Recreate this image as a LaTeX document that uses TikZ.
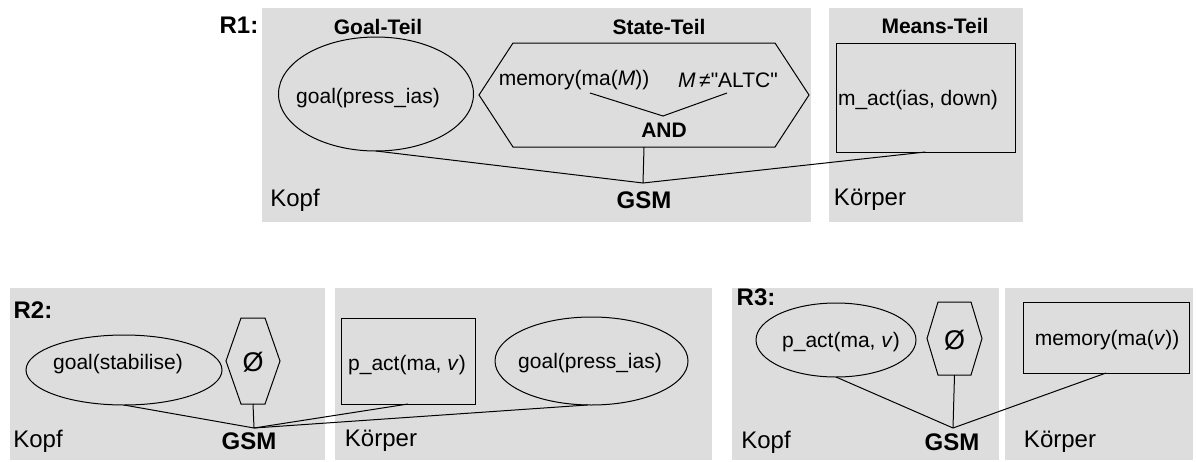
\documentclass[tikz,border=0pt]{standalone}
\usepackage{fontspec}
\setmainfont{Liberation Sans}
\newfontfamily\plainsans{Liberation Sans}
\usetikzlibrary{shapes.geometric}
\definecolor{boxgray}{RGB}{221,221,221}
\newcommand\hexpath[2]{\draw[conn] (#1.west) -- ([xshift=#2]#1.north west) -- ([xshift=-#2]#1.north east) -- (#1.east) -- ([xshift=-#2]#1.south east) -- ([xshift=#2]#1.south west) -- cycle;}
\begin{document}
\begin{tikzpicture}[x=1pt,y=-1pt,
  conn/.style={line width=1pt},
  panel/.style={fill=boxgray},
  ell/.style={ellipse,draw,line width=1pt,inner sep=0pt,outer sep=0pt},
  rbox/.style={rectangle,draw,line width=1pt,inner sep=0pt,outer sep=0pt},
  hexbox/.style={rectangle,draw=none,inner sep=0pt,outer sep=0pt},
  txt/.style={inner sep=0pt,font=\fontsize{21}{25}\selectfont},
  ttl/.style={inner sep=0pt,font=\fontsize{21}{25}\selectfont\bfseries},
  lbl/.style={inner sep=0pt,font=\fontsize{24}{28}\selectfont},
  blbl/.style={inner sep=0pt,font=\fontsize{24}{28}\selectfont\bfseries},
  empt/.style={inner sep=0pt,font=\fontsize{27}{30}\selectfont}]
\useasboundingbox (0,0) rectangle (1196,461);
% ---------- panels ----------
\fill[panel] (262,8) rectangle (811,222);
\fill[panel] (829,8) rectangle (1023,222);
\fill[panel] (10,288) rectangle (325,460);
\fill[panel] (335,288) rectangle (712,460);
\fill[panel] (732,288) rectangle (999,460);
\fill[panel] (1005,288) rectangle (1193,460);
% ---------- R1 ----------
\node[blbl] (r1lab) at (239,25) {R1:};
\node[ttl] (goalt) at (378,27) {Goal-Teil};
\node[ttl] (statet) at (659,27) {State-Teil};
\node[ttl] (meanst) at (935,26) {Means-Teil};
\node[ell,minimum width=195pt,minimum height=114pt] (e1) at (376,94) {};
\node[txt] (e1t) at (368,98) {goal(press\_ias)};
\node[hexbox,minimum width=330pt,minimum height=104pt] (h1) at (644,95) {};
\hexpath{h1}{34pt}
\node[txt] (mem) at (574,80) {memory(ma(\textit{M}))};
\node[txt] (neq) at (728,80) {\plainsans\textit{M}\,≠"ALTC"};
\coordinate (va) at (590,93);
\coordinate (vb) at (727,93);
\coordinate (vapex) at (663,116);
\node[ttl] (and) at (664,130) {AND};
\draw[conn] (va) -- (vapex) -- (vb);
\node[rbox,minimum width=179pt,minimum height=109pt] (r1) at (925.5,97.5) {};
\node[txt] (r1t) at (918,100) {m\_act(ias, down)};
\coordinate (j1) at (643,183);
\node[blbl] (gsm1) at (644,200) {GSM};
\node[lbl] (kopf1) at (295,200) {Kopf};
\node[lbl] (koerper1) at (870,200) {Körper};
\draw[conn] (e1.south) -- (j1);
\draw[conn] (h1.south) -- (j1);
\draw[conn] (r1.south) -- (j1);
% ---------- R2 ----------
\node[blbl] (r2lab) at (33,310) {R2:};
\node[ell,minimum width=196pt,minimum height=70pt] (e2a) at (124,370) {};
\node[txt] (e2at) at (118,364) {goal(stabilise)};
\node[hexbox,minimum width=54pt,minimum height=86pt] (h2) at (253,361) {};
\hexpath{h2}{15pt}
\node[empt] (h2t) at (253,362) {Ø};
\node[rbox,minimum width=134pt,minimum height=86pt] (r2) at (408,361) {};
\node[txt] (r2t) at (407,365) {p\_act(ma, \textit{v})};
\node[ell,minimum width=193pt,minimum height=88pt] (e2b) at (591.5,361) {};
\node[txt] (e2bt) at (590,363) {goal(press\_ias)};
\coordinate (j2) at (254,428);
\node[blbl] (gsm2) at (249,441) {GSM};
\node[lbl] (kopf2) at (38,441) {Kopf};
\node[lbl] (koerper2) at (381,441) {Körper};
\draw[conn] (e2a.south) -- (j2);
\draw[conn] (h2.south) -- (j2);
\draw[conn] (r2.south) -- (j2);
\draw[conn] (e2b.265) -- (j2);
% ---------- R3 ----------
\node[blbl] (r3lab) at (756,297) {R3:};
\node[ell,minimum width=160pt,minimum height=74pt] (e3) at (836,340) {};
\node[txt] (e3t) at (841,342) {p\_act(ma, \textit{v})};
\node[hexbox,minimum width=55pt,minimum height=73pt] (h3) at (954.5,338.5) {};
\hexpath{h3}{11pt}
\node[empt] (h3t) at (954.5,340) {Ø};
\node[rbox,minimum width=166pt,minimum height=71pt] (r3) at (1106,337.5) {};
\node[txt] (r3t) at (1107,340) {memory(ma(\textit{v}))};
\coordinate (j3) at (953,428);
\node[blbl] (gsm3) at (952,442) {GSM};
\node[lbl] (kopf3) at (766,442) {Kopf};
\node[lbl] (koerper3) at (1060,442) {Körper};
\draw[conn] (e3.south) -- (j3);
\draw[conn] (h3.south) -- (j3);
\draw[conn] (r3.south) -- (j3);
\end{tikzpicture}
\end{document}
